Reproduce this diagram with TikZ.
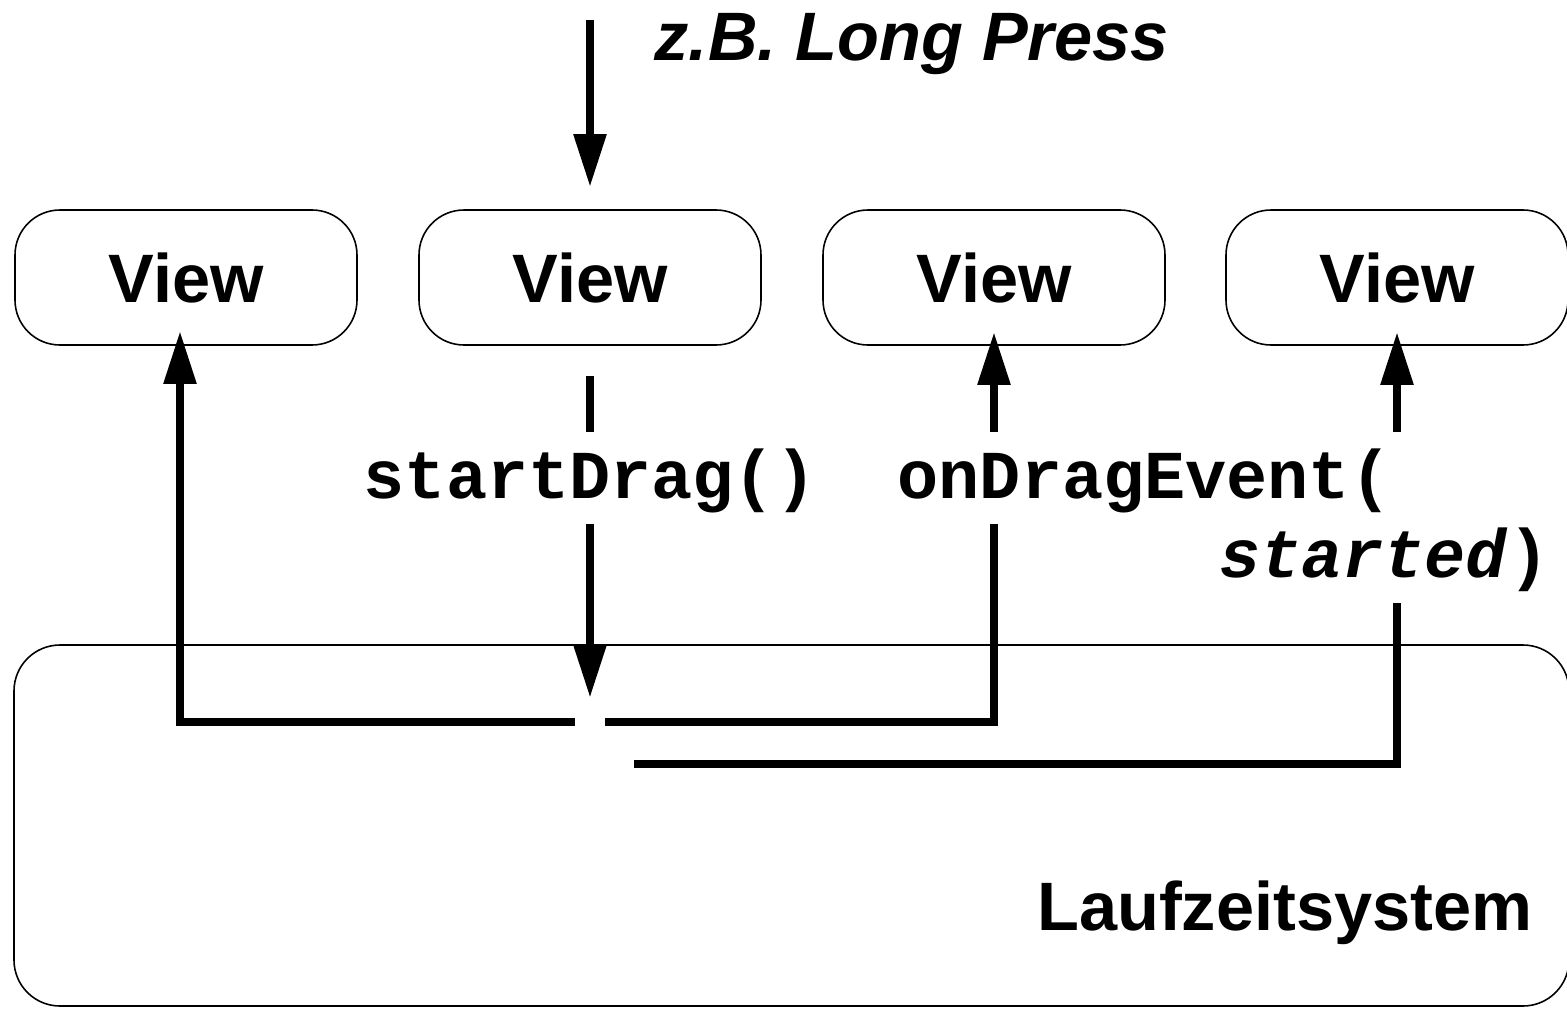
\documentclass[tikz,border=0pt]{standalone}
\usepackage{fontspec}
\setmainfont{Liberation Sans}
\setmonofont{Liberation Mono}
\usetikzlibrary{arrows.meta}

\begin{document}
\begin{tikzpicture}[
    view/.style={shape=rectangle,draw=black,line width=0.45pt,rounded corners=0.45cm,
        minimum width=3.42cm,minimum height=1.35cm,font=\fontsize{19.5}{23}\selectfont\bfseries},
    call/.style={inner sep=0pt,text height=0.65cm,text depth=0.25cm,
        font=\fontsize{19.5}{23}\selectfont\ttfamily\bfseries},
    wire/.style={line width=0.085cm},
    flow/.style={wire,-{Triangle[length=0.53cm,width=0.31cm]}}
]
    \useasboundingbox (0,0) rectangle (15.67,10.09);

    % runtime system
    \node[shape=rectangle,draw=black,line width=0.45pt,rounded corners=0.46cm,
        minimum width=15.55cm,minimum height=3.61cm] (rts) at (7.915,1.835) {};
    \node[anchor=base east,inner sep=0pt,font=\fontsize{19.5}{23}\selectfont\bfseries]
        (rtslabel) at (15.33,0.79) {Laufzeitsystem};

    % views
    \node[view] (view1) at (1.86,7.315) {View};
    \node[view] (view2) at (5.90,7.315) {View};
    \node[view] (view3) at (9.94,7.315) {View};
    \node[view] (view4) at (13.97,7.315) {View};

    % labels
    \node[anchor=base west,inner sep=0pt,font=\fontsize{19.5}{23}\selectfont\bfseries\itshape]
        (press) at (6.54,9.49) {z.B. Long Press};
    \node[call,anchor=base] (sd) at (5.90,5.11) {startDrag()};
    \node[call,anchor=base west] (ev) at (8.97,5.11) {onDragEvent(};
    \node[call,anchor=base east] (evs) at (15.50,4.32) {\textit{started})};

    % free ends
    \coordinate (touch) at (5.90,9.89);
    \coordinate (drop) at (5.90,3.11);
    \coordinate (back1) at (5.75,2.87);
    \coordinate (back3) at (6.05,2.87);
    \coordinate (back4) at (6.34,2.45);

    % connectors
    \draw[flow] (touch) -- ([yshift=0.22cm]view2.north);
    \draw[wire] ([yshift=-0.3cm]view2.south) -- (sd.north);
    \draw[flow] (sd.south) -- (drop);
    \draw[flow] (back1) -| ([xshift=-0.06cm,yshift=0.15cm]view1.south);
    \draw[wire] (back3) -| (ev.south -| view3.south);
    \draw[flow] (ev.north -| view3.south) -- ([yshift=0.14cm]view3.south);
    \draw[wire] (back4) -| (evs.south -| view4.south);
    \draw[flow] (ev.north -| view4.south) -- ([yshift=0.14cm]view4.south);
\end{tikzpicture}
\end{document}
